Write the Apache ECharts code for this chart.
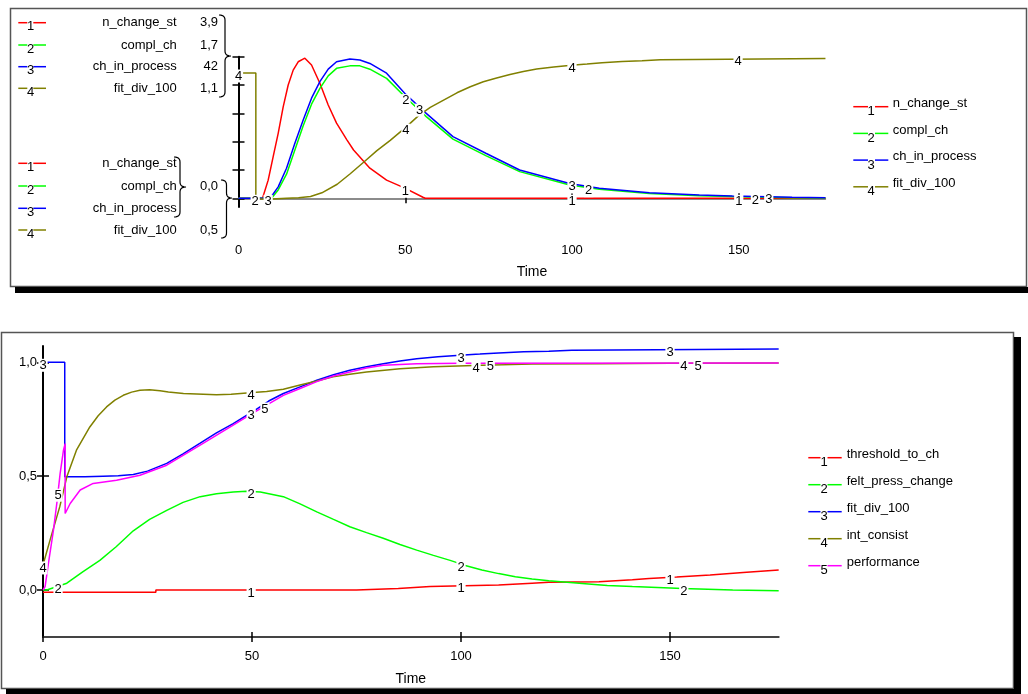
<!DOCTYPE html>
<html><head><meta charset="utf-8">
<script src="https://cdn.jsdelivr.net/npm/echarts@6/dist/echarts.min.js"></script>
<style>html,body{margin:0;padding:0;background:#fff}#c{width:1028px;height:694px}</style>
</head><body><div id="c"></div>
<script>
// ---------------- DATA ----------------
const topNames = ['n_change_st', 'compl_ch', 'ch_in_process', 'fit_div_100'];
const topScaleMin = [0, 0, 0, 0.5];
const topScaleMax = [3.9, 1.7, 42, 1.065];
const bottomNames = ['threshold_to_ch', 'felt_press_change', 'fit_div_100', 'int_consist', 'performance'];
const xTicks = [0, 50, 100, 150];
const topYTicks = [0, 1, 2, 3, 4, 5];
const bottomYTicks = [0, 0.5, 1.0];
const timeMax = 176;

const n_change_st = [[0,0],[7.2,0],[7.4,0.04],[8.9,0.5],[10.4,1.15],[11.9,1.79],[13.4,2.52],[14.9,3.12],[16.4,3.53],[17.9,3.76],[19.9,3.86],[21.9,3.67],[24.4,3.17],[26.9,2.57],[29.4,2.07],[32.5,1.61],[34.5,1.33],[39.4,0.83],[44.4,0.5],[49.9,0.28],[55.3,0.03],[56,0],[176,0]];
const compl_ch = [[0,0],[9.9,0],[11.9,0.1],[14.4,0.29],[16.9,0.58],[19.4,0.87],[21.9,1.13],[24.4,1.32],[26.9,1.47],[29.4,1.56],[33.4,1.59],[36.4,1.59],[39.4,1.55],[44.4,1.44],[49.9,1.22],[56.3,0.98],[64.3,0.71],[74.3,0.51],[84.3,0.32],[99.3,0.16],[108.2,0.11],[123.2,0.058],[138.2,0.032],[148.1,0.022],[166,0.007],[176,0.005]];
const ch_in_process = [[0,0],[9.5,0],[9.9,0.5],[11.9,3.4],[14.4,8.9],[16.9,16.3],[19.4,23.2],[21.9,29.7],[24.4,34.6],[26.9,38.3],[29.4,40.5],[33.4,41.3],[36.4,41.0],[39.4,40.0],[44.4,37.1],[49.9,31.1],[56.3,25.2],[64.3,18.3],[74.3,13.3],[84.3,8.4],[99.3,4.4],[108.2,3.0],[123.2,1.66],[138.2,1.0],[148.1,0.68],[166,0.3],[176,0.2]];
const fit_div_100 = [[0,1.0],[5.2,1.0],[5.2,0.497],[10,0.497],[14.4,0.5],[18,0.502],[21.6,0.507],[25,0.522],[29.6,0.556],[33.5,0.598],[37.6,0.645],[41.5,0.69],[45.5,0.731],[50.3,0.785],[54,0.83],[57.5,0.863],[61.5,0.892],[65.5,0.921],[69.5,0.945],[73.4,0.965],[77.4,0.98],[81.4,0.994],[85.4,1.006],[89.4,1.016],[94.5,1.024],[99.8,1.031],[104.5,1.036],[109,1.041],[115,1.046],[121,1.049],[126.5,1.053],[146.8,1.055],[147,1.058],[176,1.058]];
const threshold_to_ch = [[0,-0.01],[27,-0.01],[27,0],[75,0],[75,0.007],[85,0.007],[85,0.015],[92.6,0.015],[92.6,0.022],[109,0.022],[109,0.03],[117,0.03],[121,0.034],[133,0.036],[141,0.045],[145,0.05],[151.6,0.057],[159.6,0.066],[167.5,0.077],[176,0.088]];
const felt_press_change = [[0,0],[0.9,0],[5.7,0.03],[9.5,0.08],[13.6,0.13],[17.5,0.19],[21.6,0.26],[25.5,0.31],[29.6,0.35],[33.5,0.385],[37.6,0.41],[41.5,0.423],[45.5,0.43],[48.7,0.434],[52,0.43],[57.5,0.41],[61.5,0.378],[65.5,0.343],[69.5,0.31],[73.4,0.278],[77.4,0.252],[81.4,0.227],[85.4,0.2],[89.4,0.175],[93.4,0.152],[97.4,0.13],[101,0.108],[105,0.088],[109,0.072],[113,0.058],[117,0.048],[121,0.041],[129,0.029],[135,0.02],[141,0.015],[153,0.007],[165,0],[176,-0.003]];
const int_consist = [[0,0.11],[1.7,0.22],[4,0.365],[5.7,0.497],[8,0.614],[11.2,0.716],[13.2,0.765],[15.2,0.804],[17.2,0.834],[19.2,0.855],[21.2,0.869],[23.2,0.877],[25.5,0.879],[28,0.875],[30,0.87],[33.6,0.863],[41.5,0.858],[45,0.86],[49.5,0.866],[53.5,0.872],[57.5,0.882],[61.5,0.9],[65.5,0.918],[69.4,0.936],[73.4,0.948],[77.4,0.957],[85.4,0.972],[93.4,0.98],[105,0.987],[117,0.992],[133,0.994],[150,0.996],[176,0.997]];
const performance = [[0,0],[0.5,0.015],[1.3,0.117],[2.5,0.263],[3.3,0.38],[4.1,0.512],[4.9,0.614],[5.3,0.643],[5.3,0.336],[6.5,0.38],[8.9,0.439],[12,0.468],[17.6,0.482],[23.2,0.504],[29.6,0.548],[37.6,0.636],[45.5,0.724],[50.3,0.778],[57.5,0.855],[61.5,0.885],[65.5,0.915],[69.5,0.94],[73.4,0.957],[77.4,0.975],[81.4,0.987],[89.4,0.994],[100,0.996],[176,0.997]];

const topLabelTimes = [[50,100,150],[5,50.2,105,155],[8.9,54.3,100,159],[0,50.2,100,149.8]];
const bottomLabelTimes = [[49.8,100,150],[3.6,49.8,100,153.3],[0,49.8,100,150],[0,49.8,103.6,153.3],[3.6,53.1,107,156.7]];

// ---------------- STYLE / LAYOUT ----------------
const FONT = '"Liberation Sans", Arial, Helvetica, sans-serif';
const topColors = ['#ff0000', '#00ff00', '#0000ff', '#808000'];
const bottomColors = ['#ff0000', '#00ff00', '#0000ff', '#808000', '#ff00ff'];
const topSeriesData = [n_change_st, compl_ch, ch_in_process, fit_div_100];
const bottomSeriesData = [threshold_to_ch, felt_press_change, fit_div_100, int_consist, performance];

const TOP = { left: 238.5, top: 56.7, zeroY: 198.3, bottom: 207, pxPerT: 3.335 };
const BOT = { left: 43, top: 346, bottom: 637, pxPerT: 4.18, ymin: -0.2064, ymax: 1.0716 };
const kExt = (TOP.bottom - TOP.zeroY) / (TOP.zeroY - TOP.top);

function valAt(arr, t) {
  for (let i = 0; i < arr.length - 1; i++) {
    const [t0, v0] = arr[i], [t1, v1] = arr[i + 1];
    if (t >= t0 && t <= t1) return t1 === t0 ? v0 : v0 + (v1 - v0) * (t - t0) / (t1 - t0);
  }
  return arr[arr.length - 1][1];
}
function fmt(v) {
  return (Math.abs(v) >= 10 ? String(Math.round(v)) : v.toFixed(1)).replace('.', ',');
}

function lineSeries(name, data, color, xi, yi, labelTimes, num) {
  return {
    type: 'line', name, data, xAxisIndex: xi, yAxisIndex: yi,
    showSymbol: false, symbol: 'none', silent: true, animation: false,
    lineStyle: { color, width: 1.5 }, itemStyle: { color },
    markPoint: {
      silent: true, animation: false,
      symbol: 'circle', symbolSize: 1,
      itemStyle: { color: 'rgba(0,0,0,0)' },
      label: {
        show: true, position: 'inside', formatter: String(num), offset: [0, 3],
        color: '#000', fontFamily: FONT, fontSize: 13, backgroundColor: '#fff', padding: [0, 1]
      },
      data: labelTimes.map(t => ({ coord: [t, valAt(data, t)] }))
    }
  };
}

// ---------------- AXES ----------------
const tickStyle = { color: '#000', width: 1.5 };
const xAxes = [
  { gridIndex: 0, type: 'value', min: 0, max: timeMax, position: 'bottom',
    axisLine: { show: true, onZero: true, onZeroAxisIndex: 0, lineStyle: { color: '#666', width: 1.5 } },
    axisTick: { show: true, inside: false, length: 5, customValues: xTicks, lineStyle: tickStyle },
    axisLabel: { show: true, customValues: xTicks, margin: 37, color: '#000', fontFamily: FONT, fontSize: 13 },
    splitLine: { show: false },
    name: 'Time', nameLocation: 'middle', nameGap: 58, nameTextStyle: { color: '#000', fontFamily: FONT, fontSize: 14 } },
  { gridIndex: 0, type: 'value', min: 0, max: timeMax, position: 'bottom',
    axisLine: { show: false, onZero: true, onZeroAxisIndex: 0 },
    axisTick: { show: true, inside: true, length: 5, customValues: xTicks, lineStyle: tickStyle },
    axisLabel: { show: false }, splitLine: { show: false } },
  { gridIndex: 1, type: 'value', min: 0, max: timeMax, position: 'bottom',
    axisLine: { show: true, onZero: false, lineStyle: { color: '#444', width: 2 } },
    axisTick: { show: true, inside: false, length: 5, customValues: xTicks, lineStyle: tickStyle },
    axisLabel: { show: true, customValues: xTicks, margin: 13, color: '#000', fontFamily: FONT, fontSize: 13 },
    splitLine: { show: false },
    name: 'Time', nameLocation: 'middle', nameGap: 35, nameTextStyle: { color: '#000', fontFamily: FONT, fontSize: 14 } },
  { gridIndex: 1, type: 'value', min: 0, max: timeMax, position: 'bottom',
    axisLine: { show: false, onZero: false },
    axisTick: { show: true, inside: true, length: 5, customValues: xTicks, lineStyle: tickStyle },
    axisLabel: { show: false }, splitLine: { show: false } }
];

const yAxes = [
  { gridIndex: 0, type: 'value', min: -5 * kExt, max: 5, position: 'left',
    axisLine: { show: true, onZero: false, lineStyle: { color: '#000', width: 2 } },
    axisTick: { show: true, inside: false, length: 6, customValues: topYTicks, lineStyle: tickStyle },
    axisLabel: { show: false }, splitLine: { show: false } },
  { gridIndex: 0, type: 'value', min: -5 * kExt, max: 5, position: 'left',
    axisLine: { show: false, onZero: false },
    axisTick: { show: true, inside: true, length: 6, customValues: topYTicks, lineStyle: tickStyle },
    axisLabel: { show: false }, splitLine: { show: false } }
];
topNames.forEach((n, i) => {
  const lo = topScaleMin[i], hi = topScaleMax[i];
  yAxes.push({ gridIndex: 0, type: 'value', show: false, position: 'left',
    min: lo - (hi - lo) * kExt, max: hi, axisLine: { onZero: false }, splitLine: { show: false } });
});
yAxes.push(
  { gridIndex: 1, type: 'value', min: BOT.ymin, max: BOT.ymax, position: 'left',
    axisLine: { show: true, onZero: false, lineStyle: { color: '#000', width: 2 } },
    axisTick: { show: true, inside: false, length: 6, customValues: bottomYTicks, lineStyle: tickStyle },
    axisLabel: { show: true, customValues: bottomYTicks, margin: 6, color: '#000', fontFamily: FONT, fontSize: 13,
      formatter: v => fmt(v) },
    splitLine: { show: false } },
  { gridIndex: 1, type: 'value', min: BOT.ymin, max: BOT.ymax, position: 'left',
    axisLine: { show: false, onZero: false },
    axisTick: { show: true, inside: true, length: 6, customValues: bottomYTicks, lineStyle: tickStyle },
    axisLabel: { show: false }, splitLine: { show: false } }
);

// ---------------- SERIES ----------------
const series = [];
topNames.forEach((n, i) => series.push(lineSeries(n, topSeriesData[i], topColors[i], 0, 2 + i, topLabelTimes[i], i + 1)));
bottomNames.forEach((n, i) => series.push(lineSeries(n, bottomSeriesData[i], bottomColors[i], 2, 6, bottomLabelTimes[i], i + 1)));

// ---------------- GRAPHICS (frames, legends, braces) ----------------
const G = [];
function txt(text, x, y, align, size) {
  G.push({ type: 'text', silent: true, z: 100,
    style: { text, x, y, fill: '#000', font: (size || 13) + 'px ' + FONT, align: align || 'left', verticalAlign: 'middle' } });
}
function seg(x1, y1, x2, y2, color, w) {
  G.push({ type: 'line', silent: true, z: 100, shape: { x1, y1, x2, y2 }, style: { stroke: color, lineWidth: w || 1.5 } });
}
function rect(x, y, w, h, fill, stroke, lw) {
  G.push({ type: 'rect', silent: true, z: 0, shape: { x, y, width: w, height: h },
    style: { fill: fill || 'none', stroke: stroke || null, lineWidth: lw || 0 } });
}
function marker(xa, xb, xc, xd, y, color, num, numX, numDy) {
  seg(xa, y, xb, y, color, 1.5);
  seg(xc, y, xd, y, color, 1.5);
  txt(String(num), numX, y + numDy, 'center', 13);
}
function quad(p0, c, p1, n) {
  const pts = [];
  for (let i = 0; i <= n; i++) {
    const t = i / n;
    pts.push([(1 - t) * (1 - t) * p0[0] + 2 * (1 - t) * t * c[0] + t * t * p1[0],
              (1 - t) * (1 - t) * p0[1] + 2 * (1 - t) * t * c[1] + t * t * p1[1]]);
  }
  return pts;
}
function brace(xb, xm, xt, y0, yTip, y1) {
  const r = 5;
  let pts = [];
  pts = pts.concat(quad([xb, y0], [xm, y0], [xm, y0 + r], 6));
  pts.push([xm, yTip - r]);
  pts = pts.concat(quad([xm, yTip - r], [xm, yTip], [xt, yTip], 6));
  pts = pts.concat(quad([xt, yTip], [xm, yTip], [xm, yTip + r], 6));
  pts.push([xm, y1 - r]);
  pts = pts.concat(quad([xm, y1 - r], [xm, y1], [xb, y1], 6));
  G.push({ type: 'polyline', silent: true, z: 100, shape: { points: pts }, style: { stroke: '#000', lineWidth: 1.2, fill: 'none' } });
}

// frames + shadows
rect(10.5, 8.5, 1016, 278, 'none', '#555', 1.5);
rect(15, 287, 1013, 6, '#000');
rect(1.5, 332.5, 1012, 356, 'none', '#555', 1.5);
rect(1014, 337, 7, 357, '#000');
rect(6, 689, 1015, 5, '#000');

// top-left scale legend
const tlRowsTop = [22.7, 45, 66.7, 88.3];
const tlRowsBot = [163.3, 186, 208.3, 230];
topNames.forEach((n, i) => {
  marker(18.3, 27.3, 33.3, 46, tlRowsTop[i], topColors[i], i + 1, 30.7, 4);
  txt(n, 176.7, tlRowsTop[i], 'right');
  txt(fmt(topScaleMax[i]), 218, tlRowsTop[i], 'right');
  marker(18.3, 27.3, 33.3, 46, tlRowsBot[i], topColors[i], i + 1, 30.7, 4);
  txt(n, 176.7, tlRowsBot[i], 'right');
});
txt(fmt(topScaleMin[1]), 218, tlRowsBot[1], 'right');
txt(fmt(topScaleMin[3]), 218, tlRowsBot[3], 'right');
brace(219, 225, 231, 15, 56, 97);
brace(174, 180, 186, 157, 187, 217);
brace(221, 226.5, 232, 180, 198, 238);

// top-right legend
topNames.forEach((n, i) => {
  const y = 106.7 + 26.7 * i;
  marker(853.3, 868, 875, 888.3, y, topColors[i], i + 1, 871, 5);
  txt(n, 892.7, y - 3.4, 'left');
});
// bottom-right legend
bottomNames.forEach((n, i) => {
  const y = 457.7 + 27 * i;
  marker(808.3, 820.5, 827.5, 841.7, y, bottomColors[i], i + 1, 824, 4.5);
  txt(n, 846.7, y - 3.4, 'left');
});

// ---------------- OPTION ----------------
const option = {
  backgroundColor: '#fff',
  animation: false,
  grid: [
    { left: TOP.left, top: TOP.top, width: timeMax * TOP.pxPerT, height: TOP.bottom - TOP.top, outerBoundsMode: 'none', containLabel: false },
    { left: BOT.left, top: BOT.top, width: timeMax * BOT.pxPerT, height: BOT.bottom - BOT.top, outerBoundsMode: 'none', containLabel: false }
  ],
  xAxis: xAxes,
  yAxis: yAxes,
  series,
  graphic: { elements: G }
};
const chart = echarts.init(document.getElementById('c'), null, { renderer: 'canvas' });
chart.setOption(option);
</script>
</body></html>
